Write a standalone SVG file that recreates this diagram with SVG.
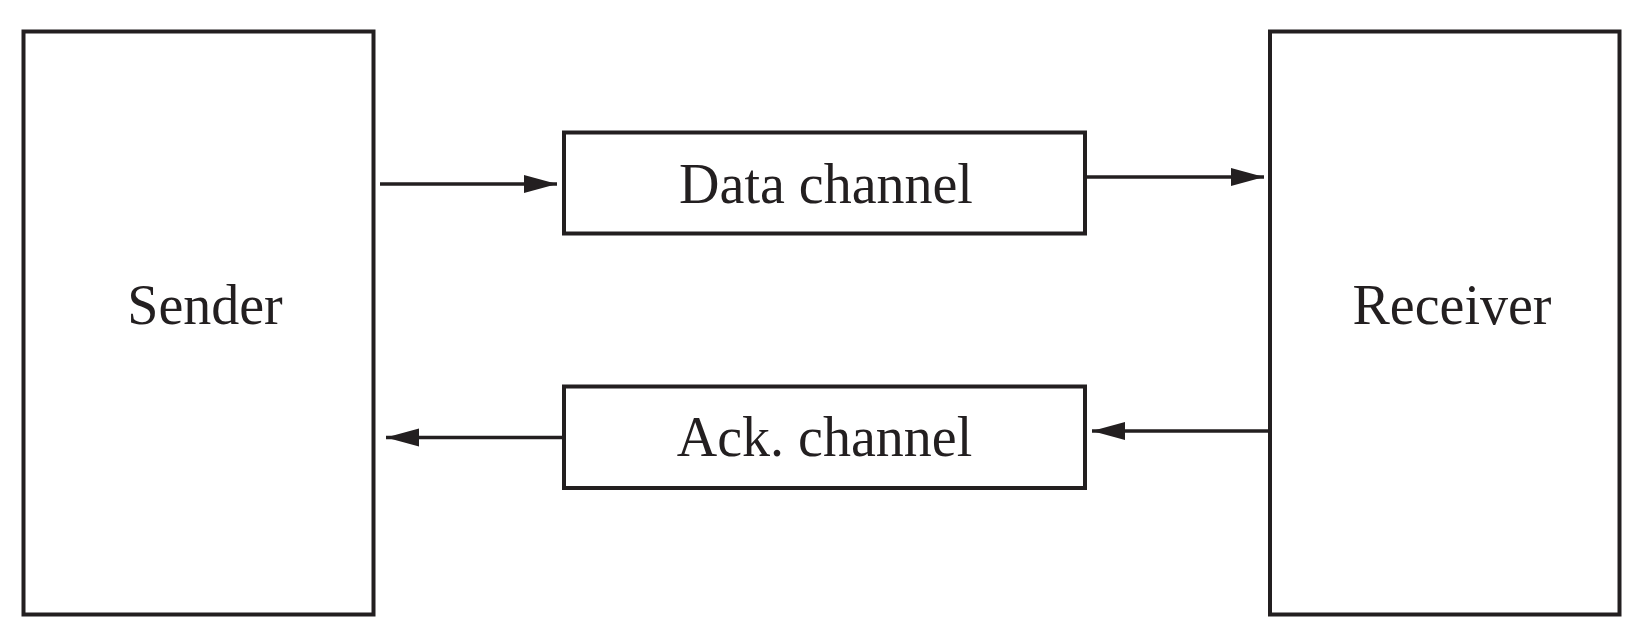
<svg xmlns="http://www.w3.org/2000/svg" width="1647" height="641" viewBox="0 0 1647 641">
<style>
.box{fill:#fff;stroke:#231f20;stroke-width:4}
.lbl{font-family:"Liberation Serif","Times New Roman",serif;font-size:56px;fill:#231f20;text-anchor:middle}
.wire{stroke:#231f20;stroke-width:3.6;fill:none}
</style>
<defs>
<marker id="ah" markerUnits="userSpaceOnUse" markerWidth="36" markerHeight="20" refX="33" refY="9" orient="auto">
<path d="M0,0 L33,9 L0,18 z" fill="#231f20"/>
</marker>
</defs>
<rect width="1647" height="641" fill="#fff"/>
<g id="sender">
<rect class="box" x="23.5" y="31.5" width="350" height="583"/>
<text class="lbl" x="205" y="324">Sender</text>
</g>
<g id="receiver">
<rect class="box" x="1270" y="31.5" width="349.5" height="583"/>
<text class="lbl" x="1452" y="324">Receiver</text>
</g>
<g id="data-channel">
<rect class="box" x="564" y="132.5" width="521" height="101"/>
<text class="lbl" x="826" y="203">Data channel</text>
</g>
<g id="ack-channel">
<rect class="box" x="564" y="386.5" width="521" height="101.5"/>
<text class="lbl" x="824.5" y="456">Ack. channel</text>
</g>
<g id="connectors">
<line class="wire" x1="380" y1="184" x2="557" y2="184" marker-end="url(#ah)"/>
<line class="wire" x1="1085" y1="177" x2="1264" y2="177" marker-end="url(#ah)"/>
<line class="wire" x1="1270" y1="431" x2="1092" y2="431" marker-end="url(#ah)"/>
<line class="wire" x1="564" y1="437.5" x2="386" y2="437.5" marker-end="url(#ah)"/>
</g>
</svg>
